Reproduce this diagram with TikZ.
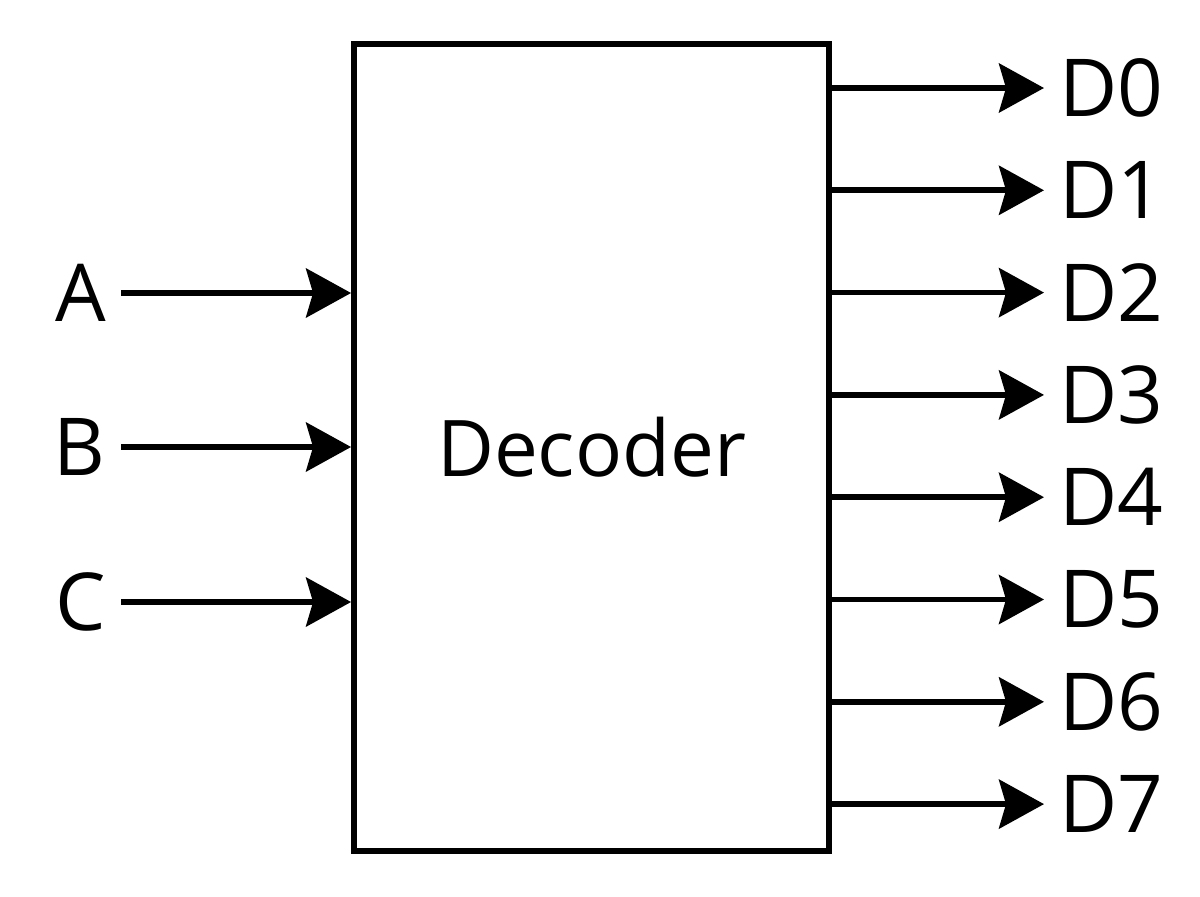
\documentclass[tikz,border=0pt]{standalone}
\usepackage{fontspec}
\setmainfont{Open Sans}
\usetikzlibrary{arrows.meta, positioning}

\begin{document}
\begin{tikzpicture}[x=0.02cm,y=-0.02cm,
    wire/.style={line width=3.2pt,-{Stealth[length=0.9cm,width=0.98cm,inset=0.14cm]}},
    pin/.style={font=\fontsize{45.5}{55}\selectfont,inner sep=0.3cm}]
    \useasboundingbox (0,0) rectangle (1200,896);
    % decoder block
    \node[draw,line width=3.4pt,minimum width=9.5cm,minimum height=16.14cm,
      font=\fontsize{44.5}{54}\selectfont] (dec) at (591.5,447.5) {Decoder};
    % inputs
    \foreach \lbl/\y in {A/293,B/447,C/602}{
      \node[pin,anchor=east] (\lbl) at (121,\y) {\lbl};
      \draw[wire] (\lbl) -- (\lbl -| dec.west);
    }
    % outputs
    \foreach \i in {0,...,7}{
      \node[pin,anchor=west] (D\i) at (1044,{88+102.3*\i}) {D\i};
      \draw[wire] (D\i -| dec.east) -- (D\i);
    }
\end{tikzpicture}
\end{document}
